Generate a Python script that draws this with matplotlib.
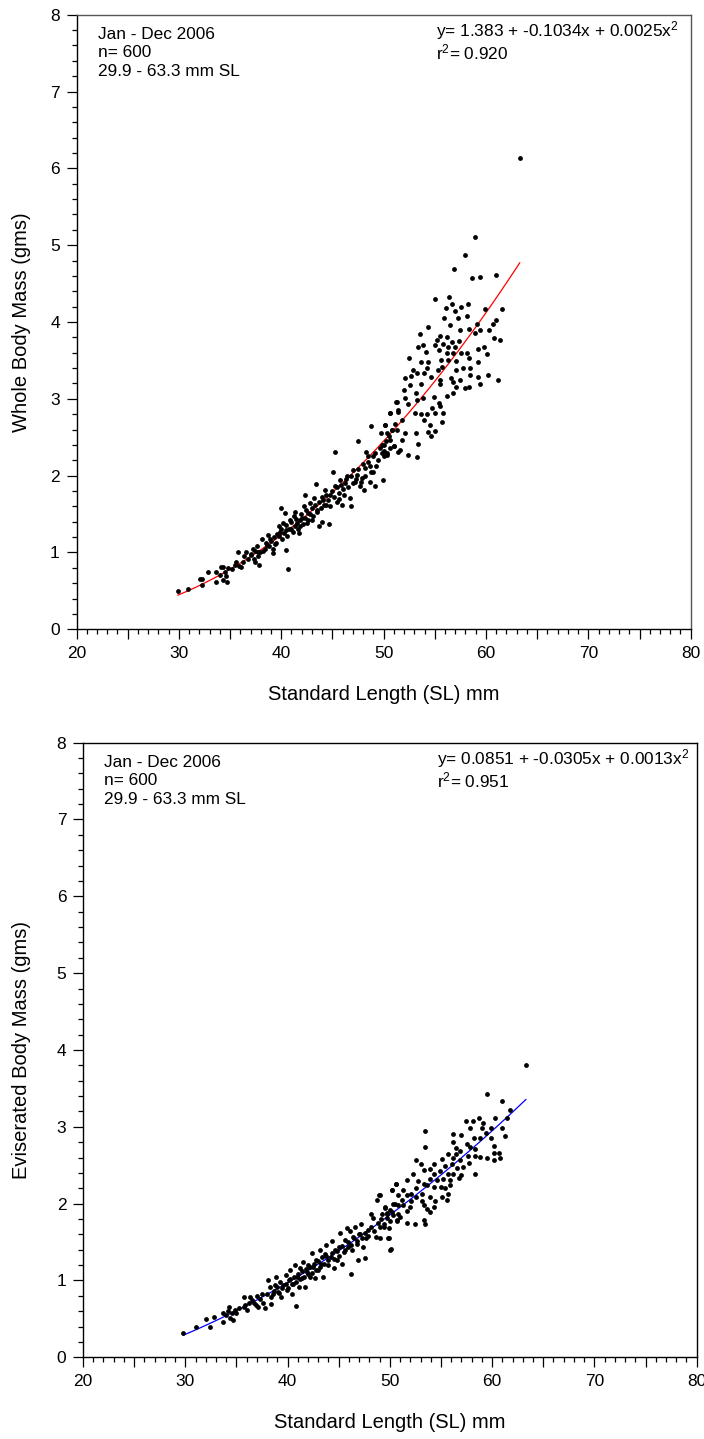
import numpy as np
import matplotlib
matplotlib.use("Agg")
import matplotlib.pyplot as plt
from matplotlib.ticker import MultipleLocator, FuncFormatter

plt.rcParams['font.family'] = ['Liberation Sans', 'DejaVu Sans']

# (SL mm, whole body mass g)
whole_pts = [
    (29.9, 0.50), (30.9, 0.52), (32.3, 0.57), (32.3, 0.65), (32.1, 0.65), (32.8, 0.74),
    (33.6, 0.61), (33.6, 0.75), (34.0, 0.71), (34.1, 0.81), (34.3, 0.81), (34.3, 0.64),
    (34.6, 0.69), (34.8, 0.80), (34.7, 0.62), (35.6, 0.87), (35.9, 0.83), (35.8, 1.01),
    (36.1, 0.81), (36.4, 0.95), (36.6, 1.00), (37.0, 0.97), (37.2, 1.05), (37.4, 1.02),
    (37.6, 1.08), (37.8, 0.84), (37.4, 0.88), (37.7, 0.95), (37.9, 1.00), (38.1, 1.17),
    (38.4, 1.05), (38.6, 1.10), (38.7, 1.23), (38.9, 1.18), (39.2, 1.05), (39.2, 0.99),
    (39.4, 1.11), (39.6, 1.24), (39.8, 1.34), (39.9, 1.27), (40.0, 1.58), (40.2, 1.38),
    (40.4, 1.51), (40.5, 1.03), (40.7, 0.78), (40.5, 1.29), (40.9, 1.42), (41.0, 1.31),
    (41.2, 1.47), (41.3, 1.53), (41.5, 1.38), (41.7, 1.25), (41.8, 1.34), (42.0, 1.45),
    (42.2, 1.60), (42.3, 1.75), (42.5, 1.38), (42.6, 1.51), (42.8, 1.64), (43.0, 1.42),
    (43.2, 1.71), (43.4, 1.89), (43.5, 1.53), (43.7, 1.34), (44.0, 1.40), (44.1, 1.68),
    (44.3, 1.81), (44.4, 1.62), (44.7, 1.37), (44.8, 1.75), (45.1, 2.05), (45.3, 1.86),
    (45.4, 1.66), (45.6, 1.77), (45.7, 1.94), (45.9, 1.62), (45.3, 2.31), (46.1, 1.75),
    (46.2, 1.90), (46.4, 1.99), (46.7, 1.71), (46.8, 1.60), (47.0, 2.07), (47.2, 1.92),
    (47.4, 2.01), (47.5, 2.45), (47.7, 1.86), (47.9, 1.97), (48.1, 1.81), (48.2, 2.10),
    (48.3, 2.31), (48.5, 2.18), (48.7, 1.92), (48.8, 2.05), (48.8, 2.64), (49.0, 2.25),
    (49.2, 1.86), (49.3, 2.12), (49.6, 2.36), (49.7, 2.55), (49.9, 1.94), (50.0, 2.25),
    (50.1, 2.66), (50.3, 2.29), (50.6, 2.47), (50.6, 2.81), (50.8, 2.60), (51.0, 2.38),
    (51.3, 2.96), (51.4, 2.31), (51.4, 2.83),
    (63.3, 6.14), (58.9, 5.11), (58.0, 4.87), (56.9, 4.69), (58.6, 4.57), (59.4, 4.59),
    (61.0, 4.61), (55.0, 4.30), (56.4, 4.32), (56.1, 4.18), (56.7, 4.23), (57.0, 4.14),
    (57.6, 4.19), (58.2, 4.24), (58.1, 4.08), (57.3, 4.05), (56.5, 3.96), (55.9, 4.05),
    (54.3, 3.93), (53.6, 3.84), (59.9, 4.17), (61.6, 4.17), (61.0, 4.02), (60.7, 3.97),
    (59.1, 3.98), (58.3, 3.91), (57.5, 3.89), (58.9, 3.86), (59.4, 3.89), (60.3, 3.89),
    (60.8, 3.79), (61.4, 3.76), (55.5, 3.82), (56.2, 3.81), (55.2, 3.77), (56.7, 3.74),
    (57.4, 3.75), (57.0, 3.68), (56.3, 3.68), (55.8, 3.71), (55.0, 3.70), (53.8, 3.70),
    (53.4, 3.67), (54.1, 3.61), (55.4, 3.64), (56.2, 3.59), (56.8, 3.59), (57.6, 3.59),
    (58.1, 3.59), (59.2, 3.65), (59.8, 3.68), (60.1, 3.58), (52.5, 3.53), (53.7, 3.48),
    (54.3, 3.48), (55.6, 3.51), (56.3, 3.50), (57.1, 3.49), (58.3, 3.53), (59.2, 3.48),
    (54.2, 3.40), (52.9, 3.38), (53.3, 3.33), (53.9, 3.34), (55.3, 3.38), (55.7, 3.42),
    (57.1, 3.38), (57.8, 3.40), (58.4, 3.40), (52.1, 3.27), (52.7, 3.30), (54.6, 3.28),
    (55.5, 3.25), (56.6, 3.27), (57.5, 3.25), (58.4, 3.31), (59.2, 3.29), (60.2, 3.31),
    (61.2, 3.25), (52.0, 3.12), (52.6, 3.18), (53.2, 3.08), (53.7, 3.19), (55.5, 3.19),
    (56.8, 3.22), (57.1, 3.15), (58.0, 3.14), (58.3, 3.16), (59.4, 3.19), (51.2, 2.96),
    (52.1, 3.01), (52.4, 2.93), (53.3, 2.99), (53.8, 3.01), (54.9, 3.02), (55.4, 2.95),
    (56.2, 3.04), (56.8, 3.07), (50.6, 2.81), (51.4, 2.85), (53.1, 2.81), (53.7, 2.80),
    (54.2, 2.80), (54.7, 2.88), (55.0, 2.82), (55.8, 2.81), (55.5, 2.90), (51.8, 2.73),
    (53.9, 2.73), (54.5, 2.66), (55.7, 2.70), (50.1, 2.66), (51.1, 2.67), (51.3, 2.59),
    (52.1, 2.55), (53.2, 2.55), (54.3, 2.57), (55.0, 2.58), (54.6, 2.52), (50.8, 2.60),
    (50.3, 2.55), (51.8, 2.47), (53.4, 2.41), (50.0, 2.40), (50.6, 2.36), (51.0, 2.38),
    (51.6, 2.33), (52.4, 2.27), (53.3, 2.24), (49.8, 2.29), (50.3, 2.27),
    # dense band, estimated
    (38.2, 1.02), (38.5, 1.12), (38.8, 1.08), (39.0, 1.15), (39.3, 1.20), (39.5, 1.12),
    (39.8, 1.22), (40.0, 1.30), (40.1, 1.18), (40.3, 1.25), (40.5, 1.36), (40.6, 1.22),
    (40.8, 1.30), (41.0, 1.40), (41.1, 1.27), (41.3, 1.35), (41.4, 1.44), (41.6, 1.30),
    (41.8, 1.42), (41.9, 1.50), (42.1, 1.37), (42.3, 1.45), (42.4, 1.55), (42.6, 1.42),
    (42.8, 1.50), (43.0, 1.58), (43.1, 1.47), (43.3, 1.62), (43.5, 1.55), (43.7, 1.66),
    (43.9, 1.58), (44.0, 1.72), (44.2, 1.62), (44.4, 1.75), (44.6, 1.68), (44.8, 1.60),
    (45.0, 1.80), (45.2, 1.72), (45.4, 1.85), (45.6, 1.70), (45.8, 1.88), (46.0, 1.82),
    (46.3, 1.95), (46.5, 1.85), (46.8, 2.00), (47.0, 1.90), (47.3, 1.96), (47.5, 2.08),
    (47.8, 1.92), (48.0, 2.15), (48.2, 2.00), (48.5, 2.25), (48.7, 2.12), (49.0, 2.05),
    (49.2, 2.30), (49.5, 2.20), (49.8, 2.40), (50.0, 2.32), (50.2, 2.45), (50.5, 2.52),
    (37.0, 0.98), (37.3, 0.92), (37.7, 1.00), (36.3, 0.88), (36.8, 0.92), (35.2, 0.78),
    (35.5, 0.84), (34.5, 0.74),
]

# (SL mm, eviscerated body mass g)
evisc_pts = [
    (29.8, 0.32), (31.0, 0.39), (32.0, 0.50), (32.4, 0.40), (32.8, 0.52), (33.7, 0.57),
    (33.7, 0.46), (34.0, 0.55), (34.3, 0.66), (34.4, 0.51), (34.7, 0.48), (34.6, 0.57),
    (34.9, 0.62), (35.0, 0.57), (35.7, 0.66), (35.7, 0.79), (36.0, 0.62), (36.3, 0.79),
    (36.2, 0.71), (36.7, 0.70), (37.0, 0.80), (37.1, 0.66), (37.5, 0.83), (37.6, 0.70),
    (37.8, 0.64), (38.1, 1.00), (38.3, 0.92), (38.4, 0.69), (38.6, 0.83), (38.8, 0.94),
    (38.9, 1.04), (39.1, 0.85), (39.3, 0.98), (39.4, 0.79), (39.6, 0.94), (39.8, 1.07),
    (39.9, 0.88), (40.1, 1.00), (40.2, 1.14), (40.4, 0.83), (40.5, 0.96), (40.7, 1.20),
    (40.8, 0.67), (40.9, 1.05), (41.1, 0.92), (41.2, 1.16), (41.4, 1.03), (41.5, 1.24),
    (41.7, 0.91), (41.9, 1.11), (42.0, 1.20), (42.2, 1.05), (42.4, 1.36), (42.5, 1.18),
    (42.7, 1.03), (42.8, 1.27), (43.0, 1.14), (43.2, 1.40), (43.3, 1.22), (43.5, 1.05),
    (43.7, 1.35), (43.8, 1.46), (44.0, 1.20), (44.2, 1.31), (44.3, 1.51), (44.5, 1.16),
    (44.6, 1.40), (44.8, 1.27), (45.0, 1.44), (45.1, 1.62), (45.3, 1.22), (45.5, 1.37),
    (45.6, 1.53), (45.8, 1.68), (45.9, 1.44), (46.1, 1.64), (46.2, 1.09), (46.3, 1.40),
    (46.4, 1.57), (46.6, 1.70), (46.8, 1.51), (46.9, 1.27), (47.1, 1.61), (47.2, 1.74),
    (47.4, 1.44), (47.6, 1.29), (47.7, 1.55), (47.9, 1.66), (48.2, 1.87), (48.4, 1.81),
    (48.6, 1.57), (48.7, 2.05), (48.9, 2.11), (49.0, 1.70), (49.2, 1.87), (49.5, 1.94),
    (49.7, 1.81), (49.9, 1.55), (50.0, 1.40), (50.2, 2.18), (50.3, 1.85), (50.6, 2.26),
    (50.7, 1.77), (50.8, 1.98),
    (63.3, 3.80), (59.5, 3.43), (61.0, 3.34), (61.7, 3.22), (61.5, 3.11), (60.3, 3.12),
    (58.7, 3.12), (58.1, 3.08), (57.4, 3.07), (59.1, 3.05), (57.8, 2.98), (59.0, 2.99),
    (59.9, 2.99), (59.4, 2.92), (61.0, 2.98), (61.3, 2.88), (53.4, 2.95), (56.2, 2.91),
    (57.0, 2.89), (58.2, 2.85), (58.8, 2.86), (59.9, 2.85), (53.4, 2.74), (56.2, 2.80),
    (57.5, 2.78), (56.5, 2.73), (56.9, 2.69), (57.8, 2.74), (58.3, 2.71), (60.2, 2.75),
    (60.7, 2.66), (60.2, 2.66), (60.8, 2.60), (60.2, 2.57), (59.5, 2.59), (58.8, 2.61),
    (58.3, 2.62), (57.6, 2.62), (56.5, 2.65), (55.7, 2.65), (56.2, 2.59), (56.9, 2.57),
    (57.7, 2.53), (52.6, 2.57), (53.0, 2.52), (54.3, 2.52), (55.1, 2.58), (55.4, 2.49),
    (56.1, 2.52), (56.6, 2.46), (57.2, 2.48), (58.3, 2.39), (52.3, 2.39), (53.3, 2.44),
    (53.9, 2.45), (54.3, 2.39), (54.9, 2.42), (55.7, 2.39), (56.2, 2.39), (57.0, 2.37),
    (56.8, 2.33), (55.9, 2.31), (55.2, 2.32), (54.6, 2.31), (53.9, 2.32), (52.8, 2.29),
    (53.3, 2.26), (50.6, 2.26), (51.7, 2.31), (52.6, 2.20), (53.6, 2.24), (54.3, 2.22),
    (55.0, 2.22), (55.4, 2.20), (55.7, 2.13), (55.9, 2.24), (51.3, 2.18), (50.2, 2.18),
    (52.1, 2.13), (53.1, 2.13), (53.9, 2.09), (55.1, 2.09), (55.6, 2.05), (50.8, 2.11),
    (51.7, 2.11), (52.6, 2.09), (51.2, 2.05), (52.1, 2.03), (53.1, 2.03), (54.4, 2.03),
    (50.5, 1.99), (51.3, 1.98), (52.0, 1.96), (53.3, 1.98), (54.3, 1.96), (53.6, 1.93),
    (49.5, 1.96), (49.0, 2.11), (49.7, 1.87), (50.2, 1.89), (50.8, 1.87), (51.7, 1.91),
    (53.9, 1.89), (51.0, 1.83), (49.4, 1.74), (50.0, 1.77), (50.7, 1.79), (51.7, 1.75),
    (52.5, 1.74), (53.3, 1.79), (53.4, 1.73), (49.9, 1.68), (49.0, 1.55), (49.8, 1.55),
    (50.1, 1.41),
    # dense band, estimated
    (38.0, 0.82), (38.4, 0.78), (38.7, 0.86), (39.0, 0.92), (39.2, 0.84), (39.5, 0.90),
    (39.8, 0.96), (40.0, 0.90), (40.2, 1.02), (40.4, 0.95), (40.6, 1.05), (40.8, 0.98),
    (41.0, 1.08), (41.2, 1.02), (41.4, 1.12), (41.6, 1.05), (41.8, 1.15), (42.0, 1.08),
    (42.2, 1.18), (42.4, 1.10), (42.6, 1.22), (42.8, 1.14), (43.0, 1.25), (43.2, 1.18),
    (43.4, 1.30), (43.6, 1.22), (43.8, 1.32), (44.0, 1.26), (44.3, 1.36), (44.5, 1.28),
    (44.8, 1.38), (45.0, 1.32), (45.3, 1.45), (45.6, 1.40), (45.9, 1.50), (46.2, 1.46),
    (46.5, 1.55), (46.8, 1.48), (47.0, 1.60), (47.3, 1.55), (47.6, 1.62), (47.9, 1.58),
    (48.2, 1.70), (48.5, 1.65), (48.8, 1.75), (49.1, 1.80), (49.4, 1.70), (49.7, 1.88),
    (50.0, 1.92), (50.3, 2.00), (36.5, 0.74), (36.9, 0.68), (37.3, 0.76), (35.3, 0.64),
    (35.8, 0.68), (34.2, 0.60),
]

info_lines = ["Jan - Dec 2006", "n= 600", "29.9 - 63.3 mm SL"]
whole_eq = ["y= 1.383 + -0.1034x + 0.0025x$^2$", "r$^2$= 0.920"]
evisc_eq = ["y= 0.0851 + -0.0305x + 0.0013x$^2$", "r$^2$= 0.951"]

plt.rcParams['mathtext.fontset'] = 'custom'
plt.rcParams['mathtext.rm'] = 'Liberation Sans'
plt.rcParams['mathtext.it'] = 'Liberation Sans'
plt.rcParams['mathtext.default'] = 'regular'


def tick_fmt(v, pos):
    return f"{v:.0f}" if round(v) % 10 == 0 else ""


def draw_panel(ax, pts, color, ylabel, eq, eq_x, ylab_x, frame_col):
    sl, mass = np.array(pts).T
    ax.scatter(sl, mass, s=12, color='black', linewidths=0, zorder=3)

    coef = np.polyfit(sl, mass, 2)
    xs = np.linspace(sl.min(), sl.max(), 200)
    ax.plot(xs, np.polyval(coef, xs), color=color, lw=0.9, zorder=2)

    ax.set_xlim(20, 80)
    ax.set_ylim(0, 8)
    ax.xaxis.set_major_locator(MultipleLocator(5))
    ax.xaxis.set_major_formatter(FuncFormatter(tick_fmt))
    ax.xaxis.set_minor_locator(MultipleLocator(1))
    ax.yaxis.set_major_locator(MultipleLocator(1))
    ax.yaxis.set_minor_locator(MultipleLocator(0.2))
    ax.tick_params(which='major', length=7, width=0.9, labelsize=12.5, pad=5)
    ax.tick_params(which='minor', length=3.5, width=0.9)
    for side in ['left', 'bottom']:
        ax.spines[side].set_linewidth(1.0)
        ax.spines[side].set_color('black')
    for side in ['top', 'right']:
        ax.spines[side].set_linewidth(1.0)
        ax.spines[side].set_color(frame_col)

    ax.set_xlabel("Standard Length (SL) mm", fontsize=14.5)
    ax.set_ylabel(ylabel, fontsize=14.5)
    ax.xaxis.set_label_coords(0.5, -0.090)
    ax.yaxis.set_label_coords(ylab_x, 0.5)

    for line, yb in zip(info_lines, [0.9605, 0.9307, 0.9003]):
        ax.text(0.0345, yb, line, transform=ax.transAxes, fontsize=12.4,
                va='baseline', ha='left')
    ax.text(eq_x, 0.9640, eq[0], transform=ax.transAxes, fontsize=12.4,
            va='baseline', ha='left')
    ax.text(eq_x, 0.9265, eq[1], transform=ax.transAxes, fontsize=12.4,
            va='baseline', ha='left')


fig = plt.figure(figsize=(7.04, 14.39), dpi=100)
ax1 = fig.add_axes([0.1087, 0.5627, 0.8724, 0.4271])
ax2 = fig.add_axes([0.1179, 0.0568, 0.8717, 0.4271])

draw_panel(ax1, whole_pts, 'red', "Whole Body Mass (gms)", whole_eq, 0.5853, -0.074, '#555555')
draw_panel(ax2, evisc_pts, 'blue', "Eviserated Body Mass (gms)", evisc_eq, 0.5763, -0.085, 'black')

fig.savefig("out.png", dpi=100)
